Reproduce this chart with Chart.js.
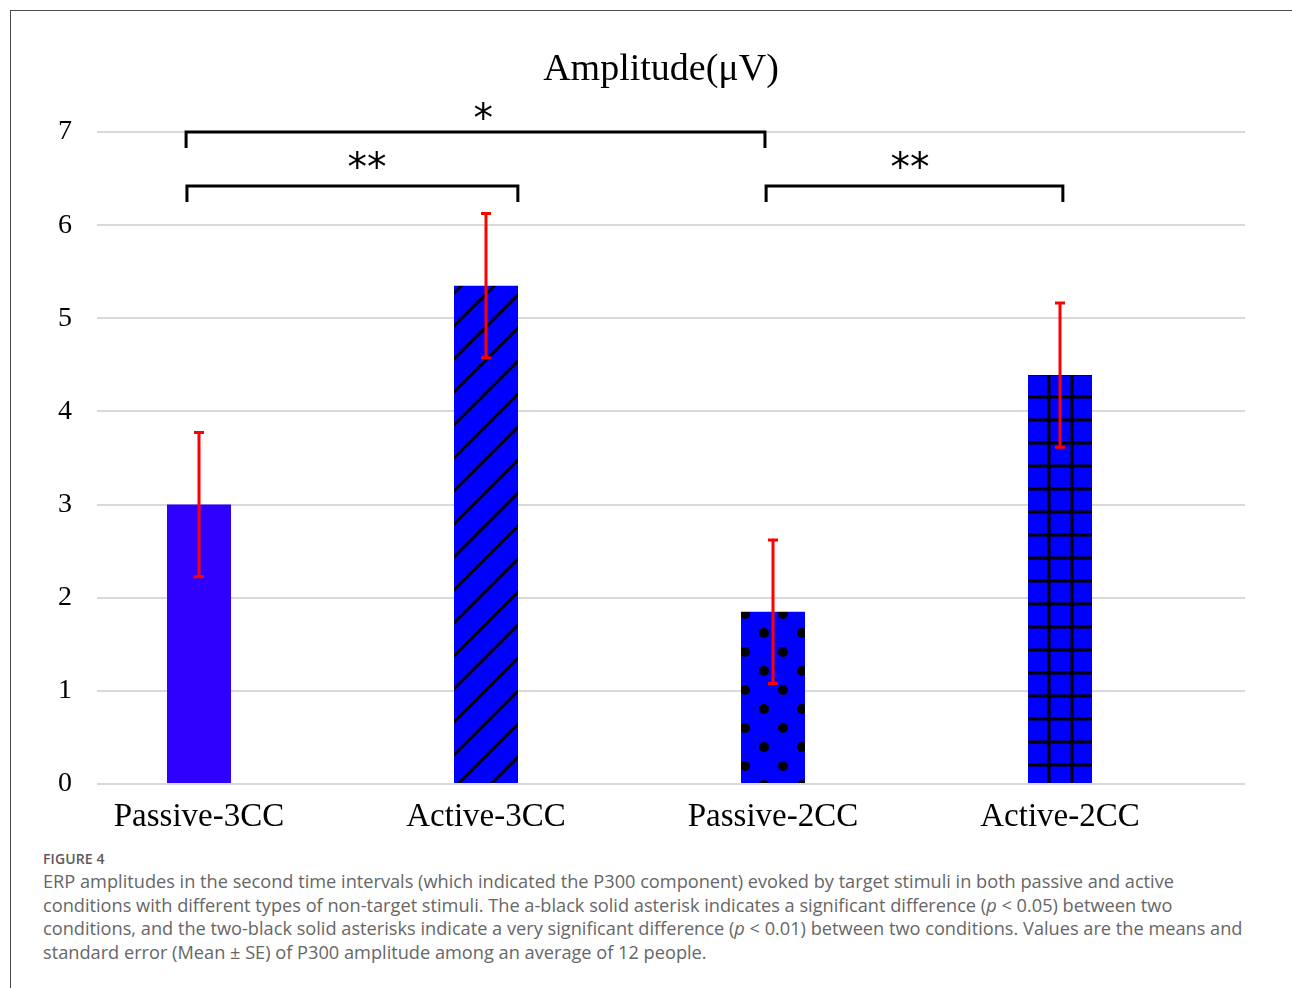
<!DOCTYPE html>
<html>
<head>
<meta charset="utf-8">
<script src="https://cdn.jsdelivr.net/npm/chart.js@4.4.1/dist/chart.umd.min.js"></script>
<style>
  html, body { margin: 0; padding: 0; background: #fff; }
  body { width: 1292px; height: 988px; position: relative; overflow: hidden; }
  #frame { position: absolute; left: 10px; top: 10px; width: 1400px; height: 1100px;
           border-left: 1.5px solid #4a4a4a; border-top: 1.5px solid #4a4a4a; }
  #wrap { position: absolute; left: 0; top: 0; width: 1292px; height: 845px; }
  #title { position: absolute; left: 461px; width: 400px; top: 44px; text-align: center;
           font-family: "Liberation Serif", serif; font-size: 38px; line-height: 46px; color: #000; }
  #fig { position: absolute; left: 43px; top: 849px; font-family: "Open Sans", sans-serif;
         font-size: 14px; font-weight: 600; color: #5a5a5a; letter-spacing: 0.1px; }
  #cap { position: absolute; left: 43px; top: 870px; font-family: "Open Sans", sans-serif;
         font-size: 18.2px; line-height: 23.7px; color: #666; white-space: nowrap; }
</style>
</head>
<body>
<div id="frame"></div>
<div id="wrap"><canvas id="c" width="1292" height="845"></canvas></div>
<div id="title">Amplitude(μV)</div>
<div id="fig">FIGURE 4</div>
<div id="cap">
ERP amplitudes in the second time intervals (which indicated the P300 component) evoked by target stimuli in both passive and active<br>
conditions with different types of non-target stimuli. The a-black solid asterisk indicates a significant difference (<i>p</i> &lt; 0.05) between two<br>
conditions, and the two-black solid asterisks indicate a very significant difference (<i>p</i> &lt; 0.01) between two conditions. Values are the means and<br>
standard error (Mean ± SE) of P300 amplitude among an average of 12 people.
</div>
<script>
// ---- data ----
const categories = ['Passive-3CC', 'Active-3CC', 'Passive-2CC', 'Active-2CC'];
const meanValues = [3.0, 5.35, 1.85, 4.39];
const seValues = [0.775, 0.775, 0.77, 0.775];
const yTicks = [0, 1, 2, 3, 4, 5, 6, 7];
// significance brackets (x in category-index units, y in µV)
const bracketStart = [-0.045, -0.042, 1.976];
const bracketEnd = [1.972, 1.111, 3.01];
const bracketLevel = [7.0, 6.42, 6.42];
const bracketLabels = ['*', '**', '**'];
const bracketLabelX = [0.99, 0.585, 2.477];
const bracketLabelY = [7.2, 6.68, 6.68];

// ---- fill patterns ----
function makePattern(w, h, draw) {
  const c = document.createElement('canvas');
  c.width = w; c.height = h;
  const g = c.getContext('2d');
  g.fillStyle = '#0000ff';
  g.fillRect(0, 0, w, h);
  g.fillStyle = '#000';
  g.strokeStyle = '#000';
  draw(g, w, h);
  return c.getContext('2d').createPattern(c, 'repeat');
}
const diagPattern = makePattern(33, 33, (g) => {
  g.lineWidth = 3;
  [-12, 21, 54, 87].forEach(k => {
    g.beginPath(); g.moveTo(k + 6, -6); g.lineTo(-6, k + 6); g.stroke();
  });
});
const dotPattern = makePattern(38, 38, (g) => {
  [[23, 6], [4, 25]].forEach(([x, y]) => {
    for (let dx = -38; dx <= 38; dx += 38) for (let dy = -38; dy <= 38; dy += 38) {
      g.beginPath(); g.arc(x + dx, y + dy, 5, 0, Math.PI * 2); g.fill();
    }
  });
});
const gridPattern = makePattern(23, 23, (g) => {
  g.fillRect(12.5, 0, 3, 23);
  g.fillRect(0, 4.5, 23, 3);
});

const errorBarPlugin = {
  id: 'errorBars',
  afterDatasetsDraw(chart) {
    const ctx = chart.ctx, y = chart.scales.y;
    const meta = chart.getDatasetMeta(0);
    ctx.save();
    ctx.strokeStyle = '#ff0000';
    ctx.lineWidth = 3;
    meta.data.forEach((bar, i) => {
      const x = bar.x;
      const top = y.getPixelForValue(meanValues[i] + seValues[i]);
      const bot = y.getPixelForValue(meanValues[i] - seValues[i]);
      ctx.beginPath();
      ctx.moveTo(x, top); ctx.lineTo(x, bot);
      ctx.moveTo(x - 5, top); ctx.lineTo(x + 5, top);
      ctx.moveTo(x - 5, bot); ctx.lineTo(x + 5, bot);
      ctx.stroke();
    });
    ctx.restore();
  }
};

const bracketPlugin = {
  id: 'brackets',
  afterDraw(chart) {
    const ctx = chart.ctx, xs = chart.scales.x, ys = chart.scales.y;
    ctx.save();
    ctx.strokeStyle = '#000';
    ctx.lineWidth = 3;
    ctx.lineJoin = 'miter';
    ctx.fillStyle = '#000';
    ctx.font = '39px "DejaVu Sans"';
    ctx.textAlign = 'center';
    ctx.textBaseline = 'alphabetic';
    bracketLabels.forEach((lab, i) => {
      const x1 = xs.getPixelForValue(bracketStart[i]);
      const x2 = xs.getPixelForValue(bracketEnd[i]);
      const yy = ys.getPixelForValue(bracketLevel[i]);
      ctx.beginPath();
      ctx.moveTo(x1, yy + 16); ctx.lineTo(x1, yy); ctx.lineTo(x2, yy); ctx.lineTo(x2, yy + 16);
      ctx.stroke();
      const lx = xs.getPixelForValue(bracketLabelX[i]);
      const ly = ys.getPixelForValue(bracketLabelY[i]);
      ctx.fillText(lab, lx, ly + 18);
    });
    ctx.restore();
  }
};

new Chart(document.getElementById('c'), {
  type: 'bar',
  data: {
    datasets: [{
      data: meanValues.map((v, i) => ({ x: i, y: v })),
      backgroundColor: ['#3000ff', diagPattern, dotPattern, gridPattern],
      borderWidth: 0,
      barPercentage: 0.223,
      categoryPercentage: 1
    }]
  },
  options: {
    responsive: false,
    animation: false,
    layout: { padding: { left: 0, right: 47, top: 132, bottom: 0 } },
    plugins: {
      legend: { display: false },
      tooltip: { enabled: false },
      title: { display: false }
    },
    scales: {
      x: {
        type: 'linear',
        min: -0.3554,
        max: 3.6446,
        offset: false,
        afterBuildTicks(s) { s.ticks = categories.map((_, i) => ({ value: i })); },
        afterFit(s) { s.height = 845 - 784; },
        ticks: {
          callback: (v) => categories[v],
          color: '#000',
          font: { family: '"Liberation Serif"', size: 33 },
          padding: 6,
          maxRotation: 0,
          autoSkip: false
        },
        grid: { display: false },
        border: { display: false }
      },
      y: {
        min: 0,
        max: 7,
        afterBuildTicks(s) { s.ticks = yTicks.map(v => ({ value: v })); },
        afterFit(s) { s.width = 97; },
        ticks: {
          color: '#000',
          font: { family: '"Liberation Serif"', size: 28 },
          padding: 25
        },
        grid: { color: '#d9d9d9', lineWidth: 2, drawTicks: false },
        border: { display: false }
      }
    }
  },
  plugins: [errorBarPlugin, bracketPlugin]
});
</script>
</body>
</html>
